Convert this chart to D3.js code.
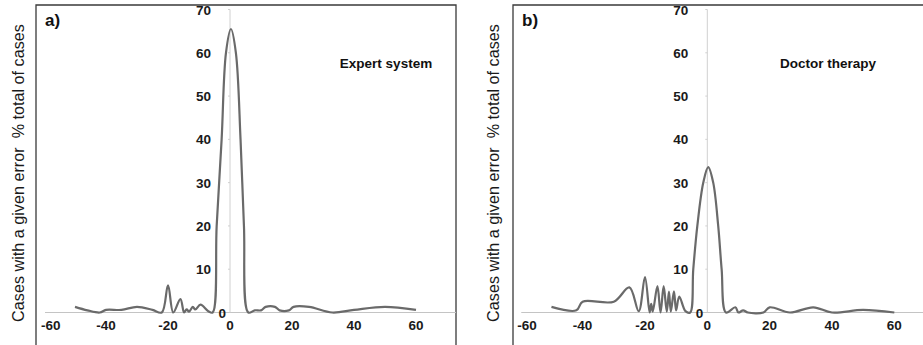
<!DOCTYPE html>
<html>
<head>
<meta charset="utf-8">
<script src="https://cdn.jsdelivr.net/npm/d3@7"></script>
<style>
  body { margin: 0; background: #fff; }
  svg { display: block; }
  text { font-family: "Liberation Sans", Arial, sans-serif; }
</style>
</head>
<body>
<div id="main"></div>
<script>
// x = error, y = % of cases with that error
const errA = [-50, -46, -42, -40, -35, -30, -25, -22, -20, -18.3, -16, -14.8, -14, -13.2, -12, -11.2, -9.5, -7, -5.6, -4.3, -2.7, -1.3, 0.3, 1.9, 3.4, 4.5, 5.9, 8, 10, 11.5, 14.5, 16, 19, 20.5, 25.5, 33, 40, 50, 60];
const pctA = [1.3, 0.5, 0, 0.6, 0.6, 1.3, 0.6, 0, 6.3, 0, 3.1, 0, 0.7, 0.2, 1.3, 0.7, 1.8, 0.3, 0, 20, 40, 60, 65.5, 60, 40, 20, 0, 0.5, 0.5, 1.3, 1.3, 0.5, 0.5, 1.3, 1.3, 0, 0.6, 1.3, 0.6];

const errB = [-50, -42, -40, -30, -25, -22, -20, -18.5, -18, -17.5, -16, -15, -14, -13, -12.3, -11.7, -10.7, -10, -9, -7, -5.5, -4.5, -3.2, -1.3, 0.3, 1.9, 3.5, 4.6, 6, 9, 10, 11.5, 13, 18, 20, 26.5, 34, 40, 50, 60];
const pctB = [1.3, 0.5, 2.5, 2.5, 5.8, 0.3, 8.2, 0, 2, 0.2, 6.1, 0, 6.1, 0.2, 4.8, 0.2, 4.9, 0.5, 3.7, 0.3, 0, 10, 20, 30, 33.6, 30, 20, 10, 0, 1.2, 0, 0.5, 0, 0, 1.2, 0, 1.2, 0, 0.6, 0];

const xTicks = [-60, -40, -20, 0, 20, 40, 60];
const yTicks = [10, 20, 30, 40, 50, 60, 70];
const yTitle = "Cases with a given error  % total of cases";

const W = 923, H = 345;

const panels = [
  { tag: "a)", label: "Expert system", errs: errA, pcts: pctA,
    frameX: 36, frameR: 456, zeroX: 230, unit: 3.1, titleX: 19, labelX: 386 },
  { tag: "b)", label: "Doctor therapy", errs: errB, pcts: pctB,
    frameX: 513, frameR: 930, zeroX: 707.3, unit: 3.117, titleX: 494, labelX: 828 },
];

const svg = d3.select("#main").append("svg")
  .attr("width", W)
  .attr("height", H);

function drawPanel(p) {
  const g = svg.append("g");
  const x = d3.scaleLinear().domain([-60, 60])
    .range([p.zeroX - 60 * p.unit, p.zeroX + 60 * p.unit]);
  const y = d3.scaleLinear().domain([0, 70]).range([312.5, 9.5]);

  // frame
  g.append("path")
    .attr("d", `M${p.frameX},${H + 5} V5 H${p.frameR} V${H + 5}`)
    .attr("fill", "none")
    .attr("stroke", "#3a3a3a")
    .attr("stroke-width", 1.3);

  // axis lines
  g.append("line")
    .attr("x1", x(-60) + 1).attr("x2", p.frameR)
    .attr("y1", y(0)).attr("y2", y(0))
    .attr("stroke", "#c4c4c4").attr("stroke-width", 1);
  g.append("line")
    .attr("x1", x(0)).attr("x2", x(0))
    .attr("y1", y(0)).attr("y2", y(70))
    .attr("stroke", "#d0d0d0").attr("stroke-width", 1);
  g.selectAll(".ytick").data(yTicks).enter().append("line")
    .attr("x1", x(0) - 2).attr("x2", x(0))
    .attr("y1", d => y(d)).attr("y2", d => y(d))
    .attr("stroke", "#d0d0d0");

  // x tick labels
  g.selectAll(".xlab").data(xTicks).enter().append("text")
    .attr("x", d => d === -60 ? x(d) - 3 : x(d))
    .attr("y", 330)
    .attr("text-anchor", d => d === -60 ? "start" : "middle")
    .attr("font-size", 13.5)
    .attr("font-weight", "bold")
    .attr("fill", "#1a1a1a")
    .text(d => d);

  // y tick labels
  g.selectAll(".ylab").data(yTicks).enter().append("text")
    .attr("x", x(0) - 19)
    .attr("y", d => y(d) + 5)
    .attr("text-anchor", "end")
    .attr("font-size", 13.5)
    .attr("font-weight", "bold")
    .attr("fill", "#1a1a1a")
    .text(d => d);
  g.append("text")
    .attr("x", x(0) - 4)
    .attr("y", y(0) + 5.5)
    .attr("text-anchor", "end")
    .attr("font-size", 13.5)
    .attr("font-weight", "bold")
    .attr("fill", "#1a1a1a")
    .text("0");

  // smoothed curve
  const pts = p.errs.map((e, i) => [e, p.pcts[i]]);
  g.append("path")
    .datum(pts)
    .attr("fill", "none")
    .attr("stroke", "#6a6a6a")
    .attr("stroke-width", 2.2)
    .attr("stroke-linejoin", "round")
    .attr("d", d3.line()
      .x(d => x(d[0]))
      .y(d => y(d[1]))
      .curve(d3.curveCatmullRom.alpha(0.5)));

  // texts
  g.append("text")
    .attr("x", p.frameX + 9)
    .attr("y", 26)
    .attr("font-size", 17)
    .attr("font-weight", "bold")
    .attr("fill", "#111")
    .text(p.tag);
  g.append("text")
    .attr("x", p.labelX)
    .attr("y", 68)
    .attr("text-anchor", "middle")
    .attr("font-size", 13.5)
    .attr("font-weight", "bold")
    .attr("fill", "#111")
    .text(p.label);
  g.append("text")
    .attr("transform", `translate(${p.titleX + 5},173) rotate(-90)`)
    .attr("text-anchor", "middle")
    .attr("font-size", 16.2)
    .attr("fill", "#1a1a1a")
    .style("white-space", "pre")
    .text(yTitle);
}

panels.forEach(drawPanel);
</script>
</body>
</html>
